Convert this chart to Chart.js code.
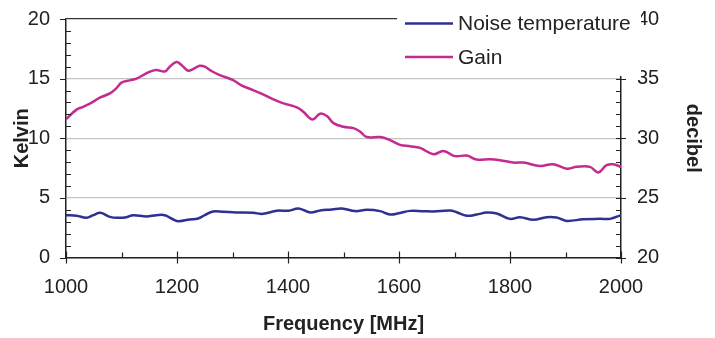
<!DOCTYPE html>
<html>
<head>
<meta charset="utf-8">
<script src="https://cdn.jsdelivr.net/npm/chart.js@4.4.1/dist/chart.umd.min.js"></script>
<style>
  html, body { margin: 0; padding: 0; background: #fff; }
  #wrap { width: 715px; height: 338px; position: relative; }
</style>
</head>
<body>
<div id="wrap"><canvas id="chart"></canvas></div>
<script>
// Data
const gainFreq = [1000,1019,1031,1043,1061,1079,1091,1100,1115,1127,1139,1151,1163,1178,1187,1199,1208,1220,1229,1241,1250,1262,1277,1301,1316,1337,1355,1377,1392,1416,1428,1440,1446,1458,1470,1482,1500,1518,1530,1542,1566,1584,1602,1620,1638,1662,1680,1701,1722,1740,1764,1782,1806,1824,1854,1878,1902,1920,1944,1959,1974,1986,2000];
const gainDb = [31.6,32.4,32.64,32.9,33.4,33.76,34.2,34.66,34.85,35.0,35.3,35.58,35.72,35.6,36.0,36.4,36.14,35.66,35.8,36.08,36.0,35.64,35.3,34.88,34.43,34.04,33.68,33.2,32.92,32.59,32.2,31.66,31.6,32.06,31.86,31.27,30.96,30.85,30.55,30.1,30.1,29.84,29.44,29.33,29.19,28.66,28.94,28.5,28.55,28.21,28.24,28.16,27.96,27.96,27.68,27.82,27.45,27.6,27.6,27.13,27.74,27.82,27.6];

const noiseFreq = [1000,1019,1037,1049,1062,1079,1094,1109,1121,1145,1163,1178,1190,1202,1223,1238,1250,1265,1283,1307,1337,1355,1380,1401,1419,1440,1458,1479,1497,1521,1542,1566,1584,1602,1620,1644,1662,1692,1704,1722,1740,1758,1776,1800,1818,1842,1866,1884,1902,1932,1962,1980,2000];
const noiseK = [3.55,3.5,3.33,3.55,3.75,3.41,3.33,3.38,3.55,3.44,3.55,3.55,3.27,3.05,3.19,3.27,3.55,3.86,3.83,3.78,3.75,3.66,3.92,3.92,4.11,3.78,3.94,4.03,4.11,3.89,4.0,3.89,3.6,3.74,3.91,3.88,3.86,3.94,3.8,3.5,3.6,3.77,3.69,3.24,3.38,3.16,3.38,3.35,3.07,3.21,3.24,3.24,3.55];

const seriesNames = ['Noise temperature', 'Gain'];
const seriesColors = ['#2e3192', '#c42a8f'];

const FONT = "'Liberation Sans', Arial, sans-serif";
const AXIS = '#222';

// minor/major tick marks, drawn through the scales
const tickMarks = {
    id: 'tickMarks',
    afterDraw(chart) {
        const c = chart.ctx;
        const { x, y, y2 } = chart.scales;
        c.save();
        c.strokeStyle = AXIS;
        c.lineWidth = 1.2;
        c.beginPath();
        // left axis
        for (let v = 0; v <= 20; v++) {
            const py = Math.round(y.getPixelForValue(v)) + 0.5;
            if (v % 5 === 0) { c.moveTo(y.right - 6, py); c.lineTo(y.right, py); }
            else { c.moveTo(y.right, py); c.lineTo(y.right + 5, py); }
        }
        // right axis
        for (let v = 20; v <= 40; v++) {
            const py = Math.round(y2.getPixelForValue(v)) + 0.5;
            if (v % 5 === 0) { c.moveTo(y2.left - 5, py); c.lineTo(y2.left + 5, py); }
            else { c.moveTo(y2.left - 5, py); c.lineTo(y2.left, py); }
        }
        // x axis
        for (let v = 1000; v <= 2000; v += 100) {
            const px = Math.round(x.getPixelForValue(v)) + 0.5;
            if (v % 200 === 0) { c.moveTo(px, x.top - 6); c.lineTo(px, x.top + 6); }
            else { c.moveTo(px, x.top - 5); c.lineTo(px, x.top); }
        }
        c.stroke();
        c.restore();
    }
};

// legend box sitting over the top right corner
const boxLegend = {
    id: 'boxLegend',
    afterDraw(chart) {
        const c = chart.ctx;
        c.save();
        c.fillStyle = '#fff';
        c.fillRect(397, 0, 244, 76);
        c.font = '21px ' + FONT;
        c.textBaseline = 'middle';
        chart.data.datasets.forEach((ds, i) => {
            const ly = 23.5 + i * 33.5;
            c.strokeStyle = ds.borderColor;
            c.lineWidth = 2.5;
            c.beginPath();
            c.moveTo(405, ly);
            c.lineTo(453, ly);
            c.stroke();
            c.fillStyle = AXIS;
            c.fillText(ds.label, 458, ly + 1);
        });
        c.restore();
    }
};

// vertical scales: fixed width, no extra label padding on top/bottom
const fitV = w => s => { s.width = w; s.paddingTop = 0; s.paddingBottom = 0; };

new Chart(document.getElementById('chart'), {
    type: 'line',
    data: {
        datasets: [
            {
                label: seriesNames[0],
                data: noiseFreq.map((f, i) => ({ x: f, y: noiseK[i] })),
                borderColor: seriesColors[0],
                borderWidth: 2.5,
                pointRadius: 0,
                tension: 0.4,
                yAxisID: 'y'
            },
            {
                label: seriesNames[1],
                data: gainFreq.map((f, i) => ({ x: f, y: gainDb[i] })),
                borderColor: seriesColors[1],
                borderWidth: 2.5,
                pointRadius: 0,
                tension: 0.4,
                yAxisID: 'y2'
            }
        ]
    },
    options: {
        responsive: true,
        maintainAspectRatio: false,
        animation: false,
        layout: { padding: { top: 19, left: 0, right: 0, bottom: 0 } },
        plugins: { legend: { display: false }, tooltip: { enabled: false } },
        scales: {
            x: {
                type: 'linear',
                min: 1000, max: 2000,
                afterFit: s => { s.height = 80.5; },
                ticks: { stepSize: 200, padding: 18, color: AXIS, font: { family: FONT, size: 20 }, callback: v => String(v) },
                grid: { display: true, drawOnChartArea: false, drawTicks: false },
                border: { color: AXIS, width: 1.5 },
                title: { display: true, text: 'Frequency [MHz]', color: AXIS, padding: { bottom: 2 }, font: { family: FONT, size: 20, weight: 'bold' } }
            },
            y: {
                position: 'left',
                min: 0, max: 20,
                afterFit: fitV(66),
                ticks: { stepSize: 5, padding: 16, color: AXIS, font: { family: FONT, size: 20 } },
                grid: {
                    drawTicks: false,
                    color: ctx => (ctx.tick && ctx.tick.value === 20) ? '#333' : '#c4c4c4',
                    lineWidth: 1.2
                },
                border: { color: AXIS, width: 1.5 },
                title: { display: true, text: 'Kelvin', color: AXIS, padding: { top: 10 }, font: { family: FONT, size: 20, weight: 'bold' } }
            },
            y2: {
                position: 'right',
                min: 20, max: 40,
                afterFit: fitV(94),
                ticks: { stepSize: 5, padding: 16, color: AXIS, font: { family: FONT, size: 20 } },
                grid: { drawOnChartArea: false, drawTicks: false },
                border: { color: AXIS, width: 1.5 },
                title: { display: true, text: 'decibel', color: AXIS, padding: { top: 10 }, font: { family: FONT, size: 20, weight: 'bold' } }
            }
        }
    },
    plugins: [tickMarks, boxLegend]
});
</script>
</body>
</html>
